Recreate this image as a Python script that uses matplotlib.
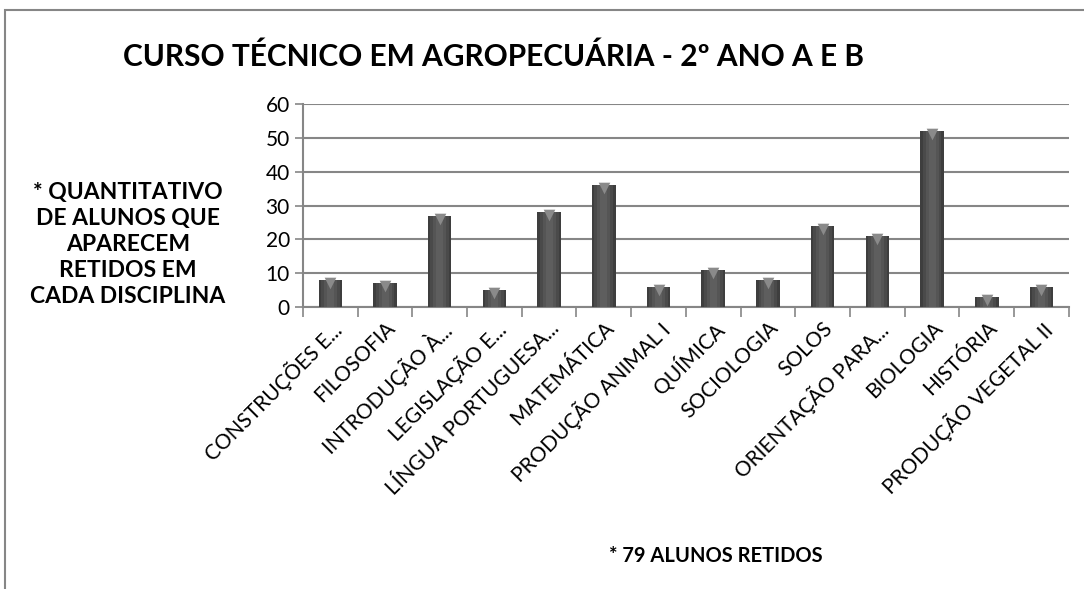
import matplotlib.pyplot as plt
import matplotlib.transforms as mtransforms
import numpy as np
from matplotlib.patches import Rectangle

# Dados
disciplinas = ['CONSTRUÇÕES E...', 'FILOSOFIA', 'INTRODUÇÃO À...', 'LEGISLAÇÃO E...',
               'LÍNGUA PORTUGUESA...', 'MATEMÁTICA', 'PRODUÇÃO ANIMAL I', 'QUÍMICA',
               'SOCIOLOGIA', 'SOLOS', 'ORIENTAÇÃO PARA...', 'BIOLOGIA', 'HISTÓRIA',
               'PRODUÇÃO VEGETAL II']
retidos = [8, 7, 27, 5, 28, 36, 6, 11, 8, 24, 21, 52, 3, 6]

plt.rcParams['font.family'] = ['Lato', 'DejaVu Sans']

fig = plt.figure(figsize=(10.84, 5.89), dpi=100)
ax = fig.add_axes([0.2795, 0.4788, 0.7065, 0.3446])

x = np.arange(len(disciplinas))
cinza = '#868686'

# barras com sombreamento tipo cilindro
largura = 0.43
camadas = [(1.00, '#3e3e3e'), (0.80, '#4a4a4a'), (0.55, '#555555'), (0.30, '#5e5e5e')]
for f, cor in camadas:
    ax.bar(x, retidos, width=largura * f, color=cor, zorder=3, linewidth=0)
# topo mais claro
ax.scatter(x, np.array(retidos) - 0.9, marker='v', s=70, color='#8a8a8a', zorder=4, linewidths=0)

ax.set_xlim(-0.5, len(disciplinas) - 0.5)
ax.set_ylim(0, 60)
ax.set_yticks(range(0, 61, 10))
ax.yaxis.grid(True, color=cinza, linewidth=1.5, zorder=0)
ax.set_axisbelow(True)

ax.set_xticks(np.arange(-0.5, len(disciplinas), 1), minor=False)
ax.set_xticklabels([])
ax.set_xticks(x, minor=True)
rotulos = ax.set_xticklabels(disciplinas, minor=True, rotation=45, ha='right',
                             rotation_mode='anchor', fontsize=15)
desloc = mtransforms.ScaledTranslation(6 / 100, -4 / 100, fig.dpi_scale_trans)
for r in rotulos:
    r.set_transform(r.get_transform() + desloc)
ax.tick_params(axis='x', which='major', length=7, color=cinza, width=1.2)
ax.tick_params(axis='x', which='minor', length=0, pad=8)
ax.tick_params(axis='y', length=6, color=cinza, width=1.2, labelsize=15)

for lado in ['top', 'right']:
    ax.spines[lado].set_visible(False)
ax.spines['left'].set_color(cinza)
ax.spines['bottom'].set_color(cinza)
ax.spines['left'].set_linewidth(1.5)
ax.spines['bottom'].set_linewidth(1.5)

fig.text(0.455, 0.903, 'CURSO TÉCNICO EM AGROPECUÁRIA - 2º ANO A E B',
         ha='center', va='center', fontsize=21.5, fontweight='bold')
fig.text(0.118, 0.585, '* QUANTITATIVO\nDE ALUNOS QUE\nAPARECEM\nRETIDOS EM\nCADA DISCIPLINA',
         ha='center', va='center', fontsize=16.5, fontweight='bold', linespacing=1.3)
fig.text(0.66, 0.056, '* 79 ALUNOS RETIDOS', ha='center', va='center',
         fontsize=14.5, fontweight='bold')

# moldura do gráfico
fig.patches.append(Rectangle((0.0046, -0.1), 1.2, 1.083, transform=fig.transFigure,
                             fill=False, edgecolor=cinza, linewidth=1.5))

fig.savefig('out.png', dpi=100)
